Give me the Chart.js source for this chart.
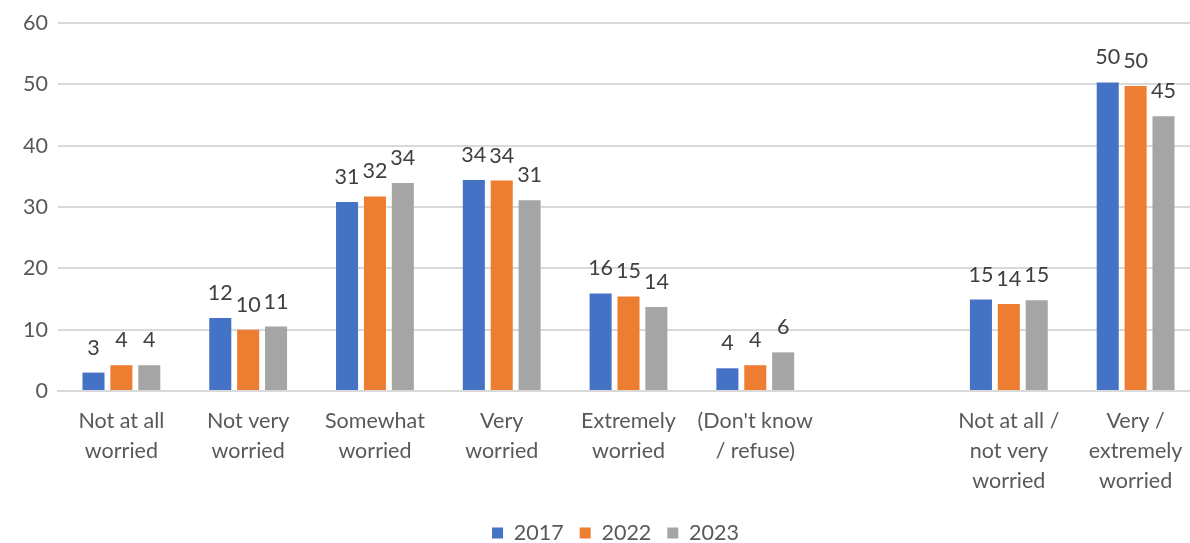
<!DOCTYPE html>
<html lang="en">
<head>
    <meta charset="UTF-8">
    <title>Worry levels 2017-2023</title>
    <style>
        body {
            margin: 0;
            padding: 0;
            background: #ffffff;
            overflow: hidden;
        }
        /* plot runs a few pixels past the right edge of the window */
        .chart-container {
            position: relative;
            width: 1199px;
            height: 543px;
        }
    </style>
    <script src="https://cdn.jsdelivr.net/npm/chart.js"></script>
</head>
<body>
    <div class="chart-container">
        <canvas id="worryChart"></canvas>
    </div>

    <script>
        // categories (the empty one leaves a gap before the combined groups)
        const categorias = [
            ['Not at all', 'worried'],
            ['Not very', 'worried'],
            ['Somewhat', 'worried'],
            ['Very', 'worried'],
            ['Extremely', 'worried'],
            ["(Don't know", '/ refuse)'],
            '',
            ['Not at all /', 'not very', 'worried'],
            ['Very /', 'extremely', 'worried']
        ];
        const anos = ['2017', '2022', '2023'];
        const valores2017 = [3.0, 11.9, 30.8, 34.4, 15.9, 3.7, null, 14.9, 50.3];
        const valores2022 = [4.2, 10.0, 31.7, 34.3, 15.4, 4.2, null, 14.2, 49.7];
        const valores2023 = [4.2, 10.5, 33.9, 31.1, 13.7, 6.3, null, 14.8, 44.8];
        const cores = ['#4472c4', '#ed7d31', '#a5a5a5'];
        const ticksY = [0, 10, 20, 30, 40, 50, 60];

        const fonte = 'Lato, "Liberation Sans", sans-serif';
        const tamanho = 21.5;

        // rounded value written above each bar
        const rotulosBarras = {
            id: 'rotulosBarras',
            afterDatasetsDraw(chart) {
                const ctx = chart.ctx;
                ctx.save();
                ctx.font = tamanho + 'px ' + fonte;
                ctx.fillStyle = '#404040';
                ctx.textAlign = 'center';
                ctx.textBaseline = 'middle';
                chart.data.datasets.forEach((ds, i) => {
                    const meta = chart.getDatasetMeta(i);
                    meta.data.forEach((bar, j) => {
                        const v = ds.data[j];
                        if (v === null) return;
                        ctx.fillText(Math.round(v), bar.x, bar.y - 25);
                    });
                });
                ctx.restore();
            }
        };

        // nudge the legend a little to the right of centre
        const deslocaLegenda = {
            id: 'deslocaLegenda',
            afterLayout(chart) {
                if (!chart.legend) return;
                chart.legend.left += 16;
                chart.legend.right += 16;
            }
        };

        const ctx = document.getElementById('worryChart').getContext('2d');
        new Chart(ctx, {
            type: 'bar',
            data: {
                labels: categorias,
                datasets: [valores2017, valores2022, valores2023].map((d, i) => ({
                    label: anos[i],
                    data: d,
                    backgroundColor: cores[i],
                    borderWidth: 0,
                    categoryPercentage: 0.66,
                    barPercentage: 0.79
                }))
            },
            options: {
                responsive: true,
                maintainAspectRatio: false,
                animation: false,
                layout: {
                    padding: { top: 22, right: 0, bottom: -10.75, left: 0 }
                },
                plugins: {
                    legend: {
                        position: 'bottom',
                        labels: {
                            boxWidth: 11,
                            boxHeight: 11,
                            padding: 16,
                            color: '#595959',
                            font: { family: fonte, size: tamanho }
                        }
                    },
                    tooltip: { enabled: false }
                },
                scales: {
                    x: {
                        grid: { display: false },
                        border: { color: '#d9d9d9', width: 2 },
                        ticks: {
                            color: '#595959',
                            padding: 7,
                            maxRotation: 0,
                            autoSkip: false,
                            font: { family: fonte, size: tamanho, lineHeight: 1.395 }
                        },
                        afterFit(scale) { scale.height = 115.25; }
                    },
                    y: {
                        min: 0,
                        max: 60,
                        afterBuildTicks(scale) {
                            scale.ticks = ticksY.map(v => ({ value: v }));
                        },
                        grid: { color: '#d9d9d9', lineWidth: 2, drawTicks: false },
                        border: { display: false },
                        ticks: {
                            color: '#595959',
                            padding: 10,
                            font: { family: fonte, size: tamanho }
                        },
                        afterFit(scale) { scale.width = 58; }
                    }
                }
            },
            plugins: [rotulosBarras, deslocaLegenda]
        });
    </script>
</body>
</html>
